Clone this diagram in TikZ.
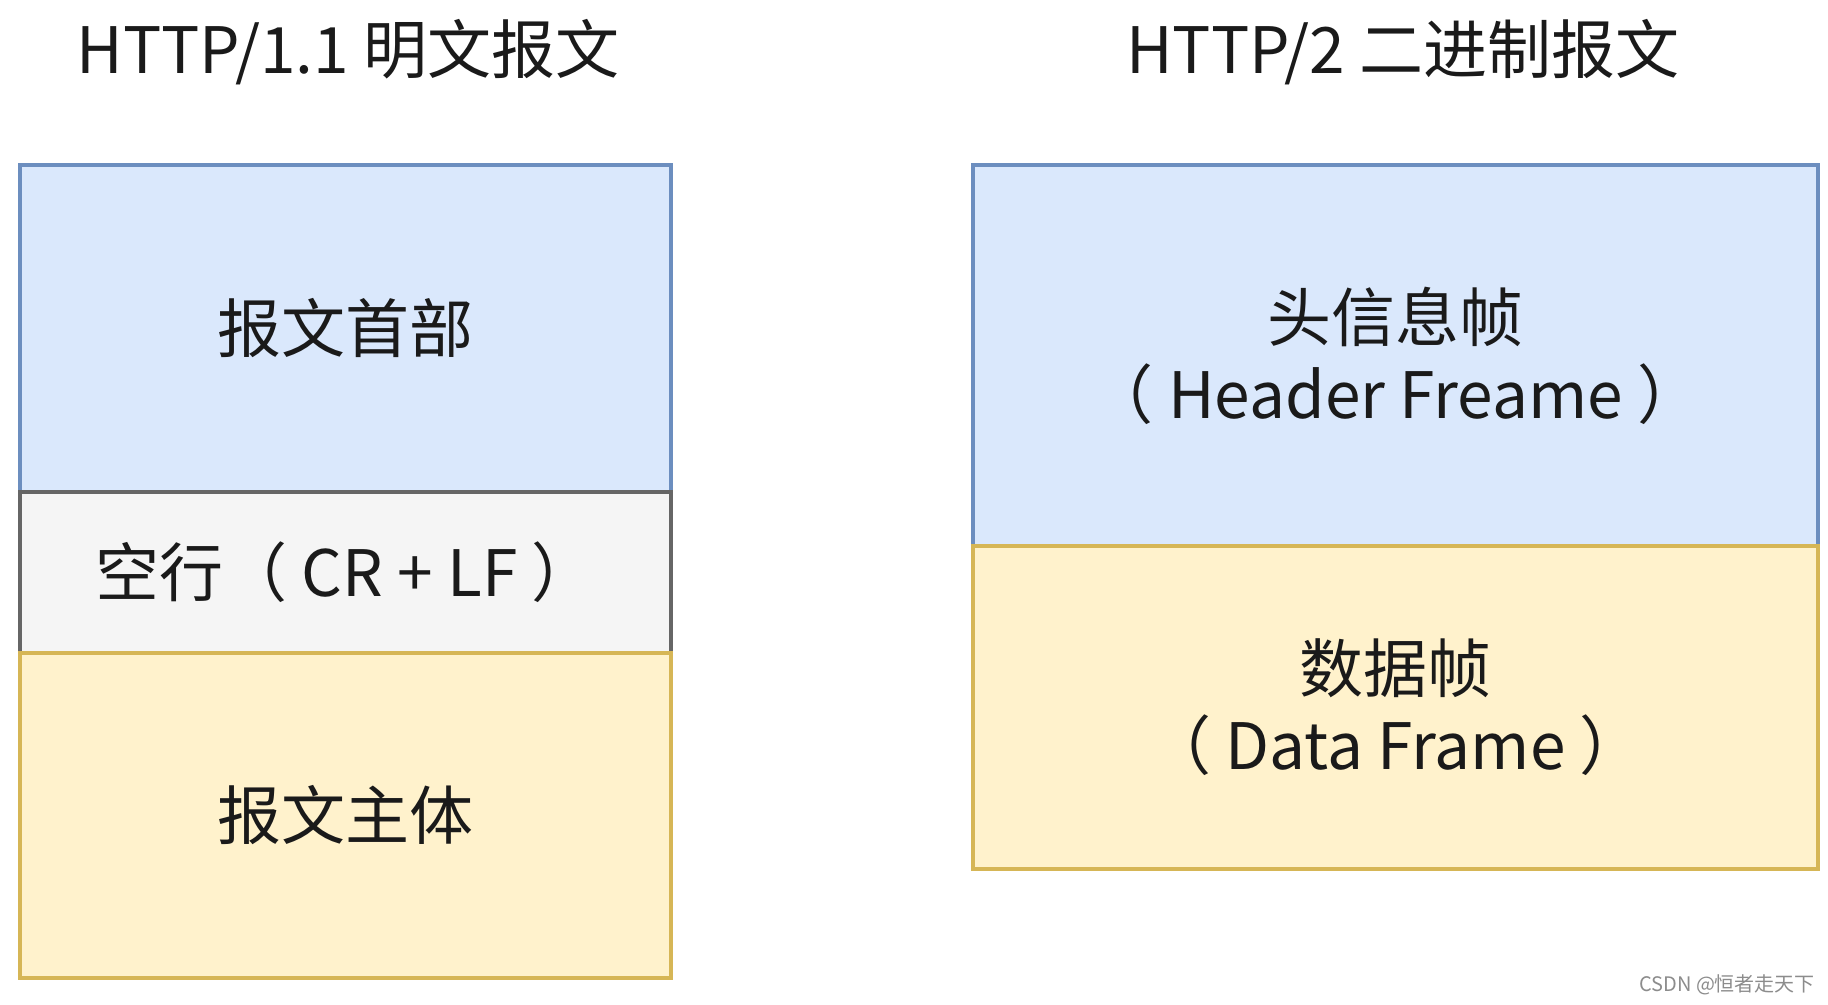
\documentclass[tikz,border=0pt]{standalone}
\usepackage{fontspec}
\setmainfont{Noto Sans CJK SC}
\usepackage{xcolor}
\definecolor{blfill}{HTML}{DAE8FC}
\definecolor{bldraw}{HTML}{6C8EBF}
\definecolor{gyfill}{HTML}{F5F5F5}
\definecolor{gydraw}{HTML}{666666}
\definecolor{yefill}{HTML}{FFF2CC}
\definecolor{yedraw}{HTML}{D6B656}
\definecolor{txt}{HTML}{1A1A1A}

\begin{document}
\begin{tikzpicture}[x=0.5pt, y=-0.5pt,
    part/.style={draw, line width=1.8pt, text=txt, align=center, inner sep=0pt,
      font=\fontsize{32pt}{38.5pt}\selectfont},
    bluepart/.style={part, fill=blfill, draw=bldraw},
    graypart/.style={part, fill=gyfill, draw=gydraw},
    yellowpart/.style={part, fill=yefill, draw=yedraw},
    title/.style={text=txt, font=\fontsize{32pt}{38.5pt}\selectfont}]
    \useasboundingbox (0,0) rectangle (1828,1005);
    % HTTP/1.1
    \node[title] (t1) at (348,52) {HTTP/1.1 明文报文};
    \node[bluepart, minimum width=325.5pt, minimum height=163.5pt] (head1) at (345.5,328.5) {报文首部};
    \node[graypart, minimum width=325.5pt, minimum height=80.5pt] (crlf) at (345.5,572.5) {空行（ CR + LF ）};
    \node[yellowpart, minimum width=325.5pt, minimum height=162.5pt] (body1) at (345.5,815.5) {报文主体};
    % HTTP/2
    \node[title] (t2) at (1403,52) {HTTP/2 二进制报文};
    \node[bluepart, minimum width=422.5pt, minimum height=190.5pt] (head2) at (1395.5,355.5) {头信息帧\\（ Header Freame ）};
    \node[yellowpart, minimum width=422.5pt, minimum height=161.5pt] (data2) at (1395.5,707.5) {数据帧\\（ Data Frame ）};
    \node[text=black!45, font=\fontsize{10pt}{12pt}\selectfont, anchor=east] (mark) at (1822,985) {CSDN @恒者走天下};
  \end{tikzpicture}
\end{document}
